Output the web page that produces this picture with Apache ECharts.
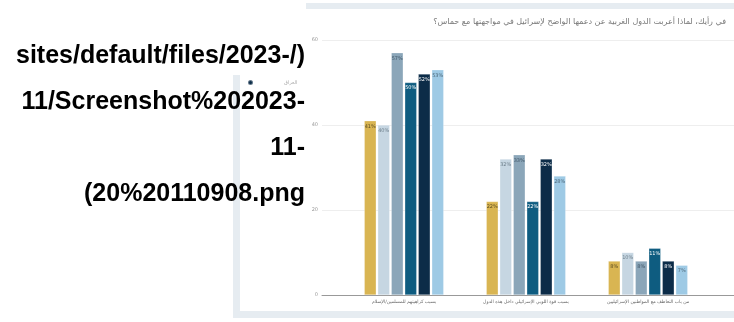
<!DOCTYPE html>
<html><head><meta charset="utf-8">
<script src="https://cdn.jsdelivr.net/npm/echarts@6/dist/echarts.min.js"></script>
<style>
html,body{margin:0;padding:0;background:#fff;}
#wrap{position:relative;width:734px;height:322px;overflow:hidden;background:#fff;}
#chart{position:absolute;left:0;top:0;width:734px;height:322px;}
.band{position:absolute;background:#e6ecf1;}
#alt{position:absolute;left:0;top:31px;width:305px;text-align:right;font:bold 25px/46px "Liberation Sans",Arial,sans-serif;color:#000;z-index:5;white-space:nowrap;}
</style></head><body>
<div id="wrap">
<div class="band" style="left:306px;top:3px;width:428px;height:6px"></div>
<div class="band" style="left:233px;top:75px;width:7px;height:243px"></div>
<div class="band" style="left:233px;top:311px;width:501px;height:7px"></div>
<div id="chart"></div>
<div id="alt">sites/default/files/2023-/)<br>11/Screenshot%202023-<br>11-<br>(20%20110908.png</div>
</div>
<script>
const titleText = 'في رأيك، لماذا أعربت الدول الغربية عن دعمها الواضح لإسرائيل في مواجهتها مع حماس؟';
const categories = [
  'بسبب كراهيتهم للمسلمين/الإسلام',
  'بسبب قوة اللوبي الإسرائيلي داخل هذه الدول',
  'من باب التعاطف مع المواطنين الإسرائيليين'
];
const seriesNames = ['السلسلة 1', 'السلسلة 2', 'السلسلة 3', 'السلسلة 4', 'العراق', 'السلسلة 6'];
const legendNames = ['العراق'];
const values1 = [41, 22, 8];
const values2 = [40, 32, 10];
const values3 = [57, 33, 8];
const values4 = [50, 22, 11];
const values5 = [52, 32, 8];
const values6 = [53, 28, 7];
const yMin = 0, yMax = 60, yStep = 20;

const colors = ['#d9b552', '#c6d6e2', '#8ba6b9', '#0e5c80', '#0c2c48', '#9ecae5'];
const labelColors = ['#5c4d22', '#6f808c', '#3f5566', '#ffffff', '#ffffff', '#4e6a7c'];
const allValues = [values1, values2, values3, values4, values5, values6];

const chart = echarts.init(document.getElementById('chart'), null, {renderer: 'canvas'});
const font = "'DejaVu Sans', 'Noto Sans', sans-serif";

chart.setOption({
  animation: false,
  textStyle: {fontFamily: font},
  title: {
    text: titleText, right: 3, top: 13,
    textStyle: {fontSize: 8, fontWeight: 'normal', color: '#777', fontFamily: font}
  },
  legend: {
    data: legendNames, left: 242, top: 74, icon: 'circle',
    itemWidth: 5, itemHeight: 5, itemGap: 4,
    textStyle: {fontSize: 5, color: '#aaa', padding: [0, 0, 0, 26], fontFamily: font}
  },
  grid: [
    {left: 343, width: 366, top: 40, bottom: 27},
    {left: 322, right: 0, top: 40, bottom: 27}
  ],
  xAxis: [
    {type: 'category', gridIndex: 0, data: categories,
     axisLine: {show: false}, axisTick: {show: false},
     axisLabel: {fontSize: 4.6, color: '#666', margin: 4, fontFamily: font}},
    {type: 'category', gridIndex: 1, data: categories,
     axisLine: {show: true, lineStyle: {color: '#999', width: 1}},
     axisTick: {show: false}, axisLabel: {show: false}}
  ],
  yAxis: [
    {type: 'value', gridIndex: 0, min: yMin, max: yMax, interval: yStep,
     axisLabel: {show: false}, splitLine: {show: false}, axisLine: {show: false}},
    {type: 'value', gridIndex: 1, min: yMin, max: yMax, interval: yStep,
     axisLabel: {fontSize: 5, color: '#999', margin: 4},
     splitLine: {lineStyle: {color: '#eeeeee', width: 1}},
     axisLine: {show: false}, axisTick: {show: false}}
  ],
  series: allValues.map((vals, i) => ({
    type: 'bar', name: seriesNames[i], data: vals,
    xAxisIndex: 0, yAxisIndex: 0,
    barWidth: 12, barGap: '12.5%',
    itemStyle: {color: colors[i], borderColor: 'rgba(255,255,255,0.35)', borderWidth: 0.6},
    label: {show: true, position: 'insideTop', distance: 3, fontSize: 5,
            color: labelColors[i], formatter: '{c}%'}
  }))
});
</script>
</body></html>
